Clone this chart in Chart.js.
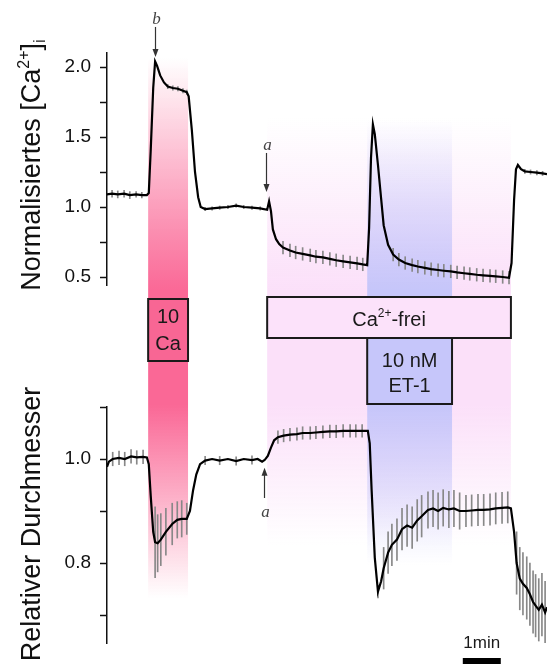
<!DOCTYPE html>
<html>
<head>
<meta charset="utf-8">
<script src="https://cdn.jsdelivr.net/npm/chart.js@4.4.0/dist/chart.umd.min.js"></script>
<style>
  html, body { margin: 0; padding: 0; background: #fff; }
  #wrap { position: relative; width: 547px; height: 664px; overflow: hidden; }
  #chart { position: absolute; left: 0; top: 0; }
  .ytitle {
    position: absolute; width: 320px; height: 30px; line-height: 30px;
    text-align: center; white-space: nowrap; color: #111;
    font-family: "Liberation Sans", Arial, sans-serif; font-size: 27px;
    transform: rotate(-90deg);
  }
  .ytitle sup { font-size: 16px; line-height: 0; vertical-align: 11px; }
  .ytitle sub { font-size: 17px; line-height: 0; vertical-align: -5px; }
</style>
</head>
<body>
<div id="wrap">
  <canvas id="chart" width="547" height="664"></canvas>
  <div class="ytitle" style="left:-129px; top:150px;">Normalisiertes [Ca<sup>2+</sup>]<sub>i</sub></div>
  <div class="ytitle" style="left:-129px; top:509px;">Relativer Durchmesser</div>
</div>
<script>
// time in seconds (scale bar = 60 s)
const caTime = [0, 8, 17, 27, 36, 46, 55, 63, 66, 69, 73, 76, 79, 84, 90, 96, 104, 112, 120, 126,
  129, 134, 139, 144, 148, 155, 166, 178, 191, 204, 216, 229, 242, 253, 256, 259, 262, 267, 272,
  278, 289, 298, 309, 321, 330, 341, 352, 362, 373, 384, 395, 404, 411, 414, 417, 420, 423, 428,
  433, 437, 444, 452, 461, 471, 482, 491, 502, 512, 523, 532, 543, 553, 564, 573, 584, 594, 605,
  614, 625, 635, 639, 643, 646, 649, 654, 660, 669, 679, 688, 695];
const caValue = [1.09, 1.095, 1.09, 1.095, 1.085, 1.09, 1.085, 1.085, 1.10, 1.40, 1.85, 2.04, 2.01,
  1.94, 1.89, 1.86, 1.85, 1.845, 1.83, 1.82,
  1.79, 1.55, 1.25, 1.07, 1.00, 0.985, 0.99, 0.995, 1.00, 1.01, 1.00, 0.995, 0.99, 0.98, 1.04, 0.97,
  0.84, 0.77, 0.735,
  0.71, 0.69, 0.675, 0.665, 0.655, 0.645, 0.64, 0.63, 0.62, 0.612, 0.605, 0.598, 0.59, 0.585, 0.85,
  1.35, 1.59, 1.52, 1.30,
  1.06, 0.87, 0.73, 0.66, 0.625, 0.60, 0.585, 0.575, 0.565, 0.556, 0.55, 0.545, 0.54, 0.533, 0.527,
  0.522, 0.516, 0.512, 0.508,
  0.505, 0.50, 0.495, 0.60, 1.05, 1.27, 1.30, 1.27, 1.255, 1.25, 1.245, 1.24, 1.235];
const caSem = [0, 0.025, 0.025, 0.025, 0.025, 0.02, 0.02, 0, 0, 0, 0, 0, 0, 0, 0, 0.015, 0.015, 0.015,
  0.015, 0.015,
  0, 0, 0, 0, 0, 0.012, 0.012, 0.012, 0.012, 0.012, 0.012, 0.012, 0.012, 0, 0, 0, 0, 0, 0,
  0.045, 0.045, 0.045, 0.045, 0.045, 0.045, 0.045, 0.045, 0.045, 0.045, 0.045, 0.045, 0.045, 0, 0,
  0, 0, 0, 0,
  0, 0, 0, 0.045, 0.045, 0.045, 0.045, 0.045, 0.045, 0.045, 0.045, 0.045, 0.045, 0.045, 0.045,
  0.045, 0.045, 0.045, 0.045,
  0.045, 0.045, 0.045, 0, 0, 0, 0, 0, 0.015, 0.015, 0.015, 0.015, 0];

const dTime = [0, 3, 9, 19, 28, 38, 47, 57, 63, 66, 69, 73, 76, 80, 85, 93, 103, 111, 118, 126,
  131, 136, 141, 147, 155, 166, 178, 191, 204, 216, 229, 238, 245, 249, 254, 259, 264,
  270, 279, 289, 300, 309, 321, 330, 341, 352, 362, 373, 384, 393, 403, 412, 415, 418, 423,
  428, 433, 437, 444, 450, 458, 466, 474, 482, 490, 497, 507, 515, 523, 531, 540, 548, 557,
  567, 576, 586, 595, 605, 614, 624, 633, 638, 643, 647, 652, 657, 663, 668, 673, 677, 682,
  687, 692, 695];
const dValue = [0.985, 0.995, 1.0, 1.002, 1.0, 1.005, 1.003, 1.004, 1.003, 0.99, 0.93, 0.86, 0.84,
  0.838, 0.845, 0.86, 0.875, 0.883, 0.885, 0.885,
  0.90, 0.94, 0.97, 0.99, 0.997, 1.0, 0.997, 1.0, 0.996, 1.0, 0.998, 1.0, 0.995, 0.998, 1.006,
  1.022, 1.036,
  1.042, 1.045, 1.047, 1.048, 1.05, 1.05, 1.051, 1.052, 1.053, 1.053, 1.054, 1.054, 1.054, 1.054,
  1.054, 1.03, 0.94, 0.81,
  0.745, 0.765, 0.79, 0.82, 0.835, 0.845, 0.865, 0.872, 0.868, 0.882, 0.89, 0.902, 0.905, 0.90,
  0.906, 0.903, 0.905, 0.90,
  0.90, 0.901, 0.902, 0.902, 0.903, 0.905, 0.906, 0.907, 0.905, 0.86, 0.80, 0.77, 0.76, 0.752,
  0.74, 0.725, 0.718, 0.71,
  0.72, 0.705, 0.715];
const dSem = [0, 0, 0.013, 0.013, 0.013, 0.013, 0.013, 0.013, 0, 0, 0, 0, 0.068, 0.055, 0.05, 0.045,
  0.04, 0.035, 0.035, 0.03,
  0, 0, 0, 0, 0.008, 0, 0.008, 0, 0.008, 0, 0.008, 0, 0, 0, 0, 0, 0,
  0.012, 0.012, 0.012, 0.012, 0.012, 0.012, 0.012, 0.012, 0.012, 0.012, 0.012, 0.012, 0.012, 0.012,
  0, 0, 0, 0,
  0.012, 0, 0.04, 0.04, 0.04, 0.04, 0.04, 0.04, 0.04, 0.04, 0.04, 0.035, 0.035, 0.035, 0.035, 0.035,
  0.035, 0.035,
  0.03, 0.03, 0.03, 0.03, 0.03, 0.03, 0.03, 0.03, 0, 0, 0.06, 0.06, 0.06, 0.06, 0.06, 0.06, 0.06,
  0.06, 0.06, 0.06, 0];

// application periods: 10 Ca, Ca2+-frei, 10 nM ET-1
const bandStart = [65, 253, 411];
const bandEnd = [128, 638, 545];
const boxLines = [['10', 'Ca'], ['Ca^{2+}-frei'], ['10 nM', 'ET-1']];

// arrows a / b
const markerLabel = ['b', 'a', 'a'];
const markerTime = [76, 251, 248];
const markerAxis = ['yCa', 'yCa', 'yD'];
const markerTail = [2.286, 1.386, 0.925];
const markerTip = [2.071, 1.107, 0.983];

const scaleBarStart = 562;
const scaleBarLength = 60;
const scaleBarLabel = '1min';

const SANS = '"Liberation Sans", Arial, sans-serif';
const PINK = [250, 104, 150], LILAC = [251, 224, 249], BLUE = [198, 198, 250];

function rgba(c, a) {
    return `rgba(${c[0]},${c[1]},${c[2]},${a})`;
}

function vgrad(ctx, x0, x1, y0, y1, c, a0, a1) {
    const g = ctx.createLinearGradient(0, y0, 0, y1);
    g.addColorStop(0, rgba(c, a0));
    g.addColorStop(1, rgba(c, a1));
    ctx.fillStyle = g;
    ctx.fillRect(x0, y0, x1 - x0, y1 - y0);
}

// text with ^{...} superscripts, centred at cx
function richText(ctx, str, cx, baseline, size) {
    const parts = [];
    str.split(/(\^\{[^}]*\})/).forEach(p => {
        if (!p) return;
        if (p.startsWith('^{')) parts.push({ t: p.slice(2, -1), sup: true });
        else parts.push({ t: p, sup: false });
    });
    let total = 0;
    parts.forEach(p => {
        ctx.font = `${p.sup ? Math.round(size * 0.6) : size}px ${SANS}`;
        p.w = ctx.measureText(p.t).width;
        total += p.w;
    });
    let x = cx - total / 2;
    ctx.textAlign = 'left';
    ctx.textBaseline = 'alphabetic';
    parts.forEach(p => {
        ctx.font = `${p.sup ? Math.round(size * 0.6) : size}px ${SANS}`;
        ctx.fillText(p.t, x, p.sup ? baseline - size * 0.45 : baseline);
        x += p.w;
    });
}

const bandStyle = [
    { c: PINK, top: 58, fadeIn: 290, fadeOut: 405, bottom: 598 },
    { c: LILAC, top: 118, fadeIn: 290, fadeOut: 405, bottom: 545 },
    { c: BLUE, top: 120, fadeIn: 290, fadeOut: 405, bottom: 565 }
];
const boxStyle = [
    { top: 299, bottom: 361, fill: 'rgb(248,102,148)', baselines: [323, 350] },
    { top: 297, bottom: 338, fill: 'rgb(252,226,250)', baselines: [326] },
    { top: 338, bottom: 404, fill: 'rgb(198,198,250)', baselines: [367, 392] }
];

const bandsPlugin = {
    id: 'bands',
    beforeDatasetsDraw(chart) {
        const { ctx } = chart;
        const xs = chart.scales.x;
        ctx.save();
        bandStart.forEach((t, i) => {
            const s = bandStyle[i];
            const x0 = xs.getPixelForValue(t), x1 = xs.getPixelForValue(bandEnd[i]);
            vgrad(ctx, x0, x1, s.top, s.fadeIn, s.c, 0, 1);
            ctx.fillStyle = rgba(s.c, 1);
            ctx.fillRect(x0, s.fadeIn, x1 - x0, s.fadeOut - s.fadeIn);
            vgrad(ctx, x0, x1, s.fadeOut, s.bottom, s.c, 1, 0);
        });
        ctx.restore();
    },
    afterDraw(chart) {
        const { ctx } = chart;
        const xs = chart.scales.x;
        ctx.save();
        // boxes
        bandStart.forEach((t, i) => {
            const s = boxStyle[i];
            const x0 = xs.getPixelForValue(t), x1 = xs.getPixelForValue(bandEnd[i]);
            ctx.fillStyle = s.fill;
            ctx.fillRect(x0, s.top, x1 - x0, s.bottom - s.top);
            ctx.lineWidth = 2;
            ctx.strokeStyle = '#1a1a1a';
            ctx.strokeRect(x0, s.top, x1 - x0, s.bottom - s.top);
            ctx.fillStyle = '#1a1a1a';
            boxLines[i].forEach((line, k) => {
                richText(ctx, line, (x0 + x1) / 2, s.baselines[k], 20);
            });
        });
        // arrows
        ctx.strokeStyle = '#333';
        ctx.fillStyle = '#333';
        ctx.lineWidth = 1.2;
        markerTime.forEach((t, i) => {
            const ys = chart.scales[markerAxis[i]];
            const x = Math.round(xs.getPixelForValue(t)) + 0.5;
            const yTail = ys.getPixelForValue(markerTail[i]);
            const yTip = ys.getPixelForValue(markerTip[i]);
            const dir = yTip > yTail ? 1 : -1;
            ctx.beginPath();
            ctx.moveTo(x, yTail);
            ctx.lineTo(x, yTip - dir * 6);
            ctx.stroke();
            ctx.beginPath();
            ctx.moveTo(x, yTip);
            ctx.lineTo(x - 3, yTip - dir * 8);
            ctx.lineTo(x + 3, yTip - dir * 8);
            ctx.closePath();
            ctx.fill();
            ctx.font = `italic 17px "Liberation Serif", "DejaVu Serif", serif`;
            ctx.textAlign = 'center';
            ctx.textBaseline = 'alphabetic';
            ctx.fillStyle = '#444';
            ctx.fillText(markerLabel[i], x + 1, dir > 0 ? yTail - 3 : yTail + 19);
            ctx.fillStyle = '#333';
        });
        // scale bar
        const b0 = xs.getPixelForValue(scaleBarStart);
        const b1 = xs.getPixelForValue(scaleBarStart + scaleBarLength);
        ctx.fillStyle = '#000';
        ctx.fillRect(b0, 658, b1 - b0, 7);
        ctx.font = `17px ${SANS}`;
        ctx.textAlign = 'center';
        ctx.fillStyle = '#1a1a1a';
        ctx.fillText(scaleBarLabel, (b0 + b1) / 2, 648);
        ctx.restore();
    }
};

function fixWidth(scale) {
    scale.width = 107;
    scale.paddingTop = 0;
    scale.paddingBottom = 0;
}

const axisGrid = { drawOnChartArea: false, drawTicks: true, tickLength: 7, tickWidth: 1.5, tickColor: '#111', color: '#111' };
const axisBorder = { display: true, color: '#111', width: 1.5 };

Chart.defaults.font.family = SANS;
Chart.defaults.color = '#111';

new Chart(document.getElementById('chart'), {
    type: 'line',
    data: {
        datasets: [
            {
                data: caTime.map((t, i) => ({ x: t, y: caValue[i] })),
                yAxisID: 'yCa', borderColor: '#000', borderWidth: 2.2, pointRadius: 0, tension: 0, order: 0
            },
            {
                data: dTime.map((t, i) => ({ x: t, y: dValue[i] })),
                yAxisID: 'yD', borderColor: '#000', borderWidth: 2.2, pointRadius: 0, tension: 0, order: 0
            },
            {
                type: 'bar',
                data: caTime.map((t, i) => ({ x: t, y: [caValue[i] - caSem[i], caValue[i] + caSem[i]] }))
                    .filter((d, i) => caSem[i] > 0),
                yAxisID: 'yCa', backgroundColor: '#888', barThickness: 1, grouped: false, order: 1
            },
            {
                type: 'bar',
                data: dTime.map((t, i) => ({ x: t, y: [dValue[i] - dSem[i], dValue[i] + dSem[i]] }))
                    .filter((d, i) => dSem[i] > 0),
                yAxisID: 'yD', backgroundColor: '#888', barThickness: 1, grouped: false, order: 1
            }
        ]
    },
    options: {
        responsive: false,
        animation: false,
        layout: { padding: { top: 53, bottom: 21, left: 0, right: 0 } },
        plugins: { legend: { display: false }, tooltip: { enabled: false } },
        scales: {
            x: { type: 'linear', min: 0, max: 695, display: false, offset: false },
            // left boxes in a stack are placed last-defined first, so the bottom panel comes first
            yD: {
                type: 'linear', position: 'left', stack: 'v', stackWeight: 236,
                min: 0.6462, max: 1.1,
                ticks: {
                    stepSize: 0.1, includeBounds: false, autoSkip: false, padding: 9,
                    font: { size: 19 },
                    callback: v => Math.abs(v * 5 - Math.round(v * 5)) < 1e-6 ? v.toFixed(1) : ''
                },
                grid: axisGrid, border: axisBorder, afterFit: fixWidth
            },
            ySpacer: {
                type: 'linear', position: 'left', stack: 'v', stackWeight: 122,
                ticks: { display: false }, grid: { display: false }, border: { display: false },
                afterFit: fixWidth
            },
            yCa: {
                type: 'linear', position: 'left', stack: 'v', stackWeight: 232,
                min: 0.443, max: 2.1,
                ticks: {
                    stepSize: 0.25, includeBounds: false, autoSkip: false, padding: 9,
                    font: { size: 19 },
                    callback: v => Math.abs(v * 2 - Math.round(v * 2)) < 1e-6 ? v.toFixed(1) : ''
                },
                grid: axisGrid, border: axisBorder, afterFit: fixWidth
            }
        }
    },
    plugins: [bandsPlugin]
});
</script>
</body>
</html>
